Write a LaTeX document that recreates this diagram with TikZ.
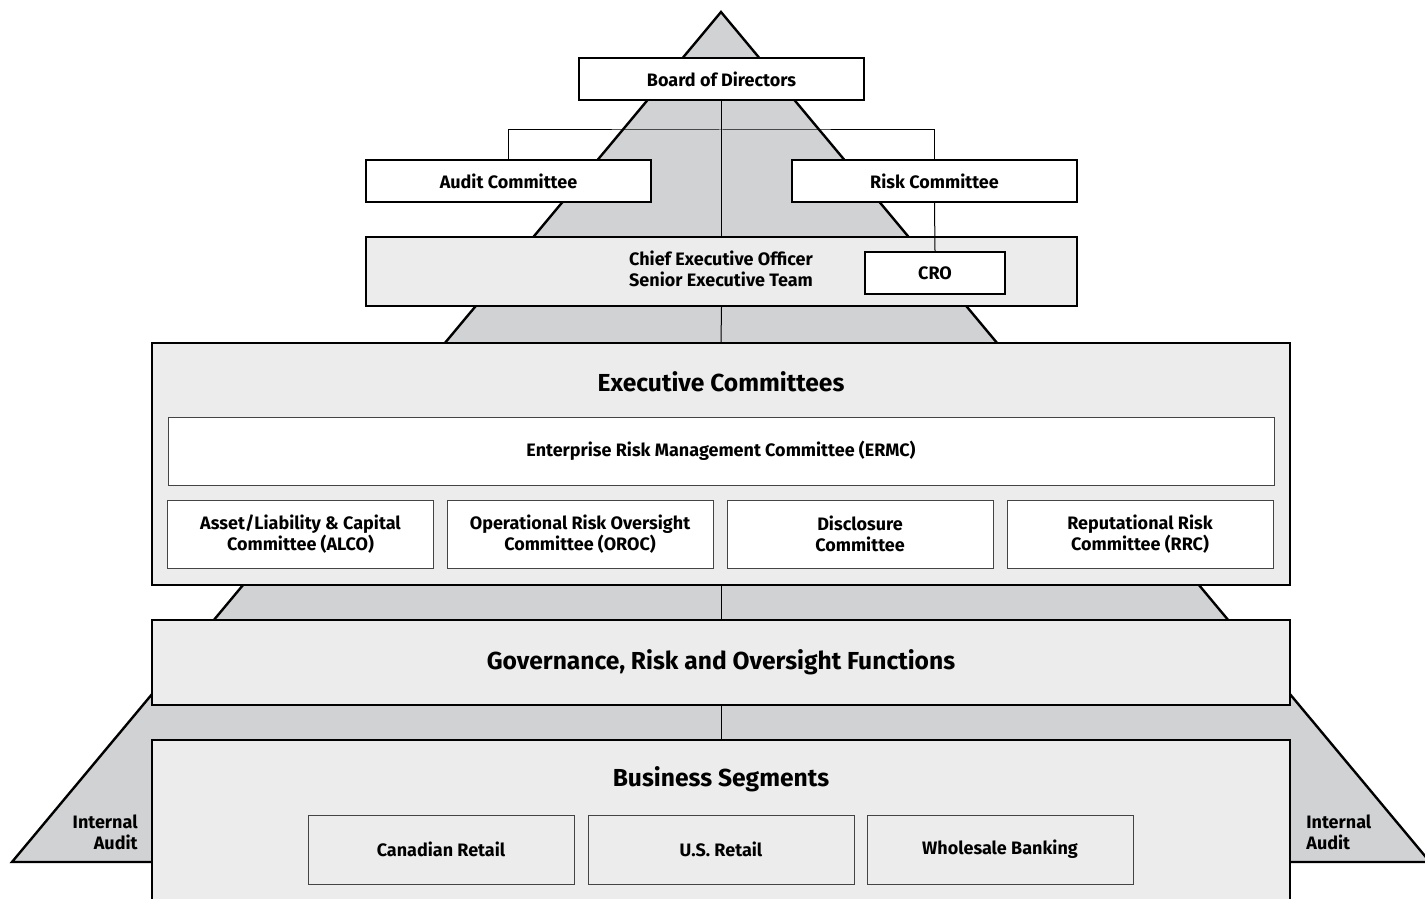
\documentclass[tikz,border=0pt]{standalone}
\usepackage{fontspec}
\setmainfont{Fira Sans}
\definecolor{trigray}{HTML}{D1D2D4}
\definecolor{panelgray}{HTML}{ECECEC}
\definecolor{thinline}{HTML}{444444}
\begin{document}
\begin{tikzpicture}[x=0.5pt,y=-0.5pt,
  smallfont/.style={font=\bfseries\fontsize{9}{10.5}\selectfont},
  bigfont/.style={font=\bfseries\fontsize{12.3}{14}\selectfont},
  whitebox/.style={draw=black, line width=1.2pt, fill=white, inner sep=0pt, align=center, smallfont},
  panel/.style={draw=black, line width=1.2pt, fill=panelgray, inner sep=0pt, align=center},
  thinbox/.style={draw=thinline, line width=0.5pt, fill=white, inner sep=0pt, align=center, smallfont},
  segbox/.style={draw=thinline, line width=0.5pt, fill=panelgray, inner sep=0pt, align=center, smallfont},
  link/.style={draw=black, line width=0.5pt},
  label/.style={inner sep=0pt, align=center}]
\useasboundingbox (0,0) rectangle (1425,899);
\clip (0,0) rectangle (1425,899);
% pyramid
\draw[fill=trigray, line width=1.2pt, line join=miter] (721,12) -- (1430,862) -- (12,862) -- cycle;
% top nodes
\node[whitebox, minimum width=142.5pt, minimum height=21pt] (board) at (721.5,79) {Board of Directors};
\node[whitebox, minimum width=142.5pt, minimum height=21pt] (audit) at (508.5,181) {Audit Committee};
\node[whitebox, minimum width=142.5pt, minimum height=21pt] (risk) at (934.5,181) {Risk Committee};
\node[panel, minimum width=355.5pt, minimum height=34.5pt] (ceo) at (721.5,271.5) {};
\node[label, smallfont] (ceotext) at (721,268.5) {Chief Executive Officer\\Senior Executive Team};
\node[whitebox, minimum width=70pt, minimum height=21pt] (cro) at (935,273) {CRO};
% executive committees
\node[panel, minimum width=569pt, minimum height=121pt] (exec) at (721,464) {};
\node[label, bigfont] (exectitle) at (721,382) {Executive Committees};
\node[thinbox, minimum width=553pt, minimum height=34pt] (ermc) at (721,451) {Enterprise Risk Management Committee (ERMC)};
\node[thinbox, minimum width=133pt, minimum height=34pt] (alco) at (300.5,534) {Asset/Liability \& Capital\\Committee (ALCO)};
\node[thinbox, minimum width=133pt, minimum height=34pt] (oroc) at (580,534) {Operational Risk Oversight\\Committee (OROC)};
\node[thinbox, minimum width=133pt, minimum height=34pt] (disc) at (860,534) {Disclosure\\Committee};
\node[thinbox, minimum width=133pt, minimum height=34pt] (rrc) at (1140,534) {Reputational Risk\\Committee (RRC)};
% governance
\node[panel, bigfont, minimum width=569pt, minimum height=42.5pt] (gov) at (721,662.5) {Governance, Risk and Oversight Functions};
% business segments
\coordinate (bstop) at (721,740);
\draw[fill=panelgray, line width=1.2pt] (152,910) -- (152,740) -- (1290,740) -- (1290,910);
\node[label, bigfont] (bustitle) at (721,779) {Business Segments};
\node[segbox, minimum width=133pt, minimum height=34.5pt] (canret) at (441,849.5) {Canadian Retail};
\node[segbox, minimum width=133pt, minimum height=34.5pt] (usret) at (721,849.5) {U.S. Retail};
\node[segbox, minimum width=133pt, minimum height=34.5pt] (whole) at (1000,849.5) {Wholesale Banking};
% internal audit
\node[label, smallfont, align=right, anchor=east] (ialeft) at (138,832.5) {Internal\\Audit};
\node[label, smallfont, align=left, anchor=west] (iaright) at (1306,832.5) {Internal\\Audit};
% connectors
\coordinate (hbar) at (721,130);
\draw[link] (board.south) -- (ceo.north);
\draw[link] (audit.north) |- (hbar) -| (risk.north);
\draw[link] (risk.south) -- (cro.north);
\draw[link] (ceo.south) -- (exec.north);
\draw[link] (exec.south) -- (gov.north);
\draw[link] (gov.south) -- (bstop);
\end{tikzpicture}
\end{document}
